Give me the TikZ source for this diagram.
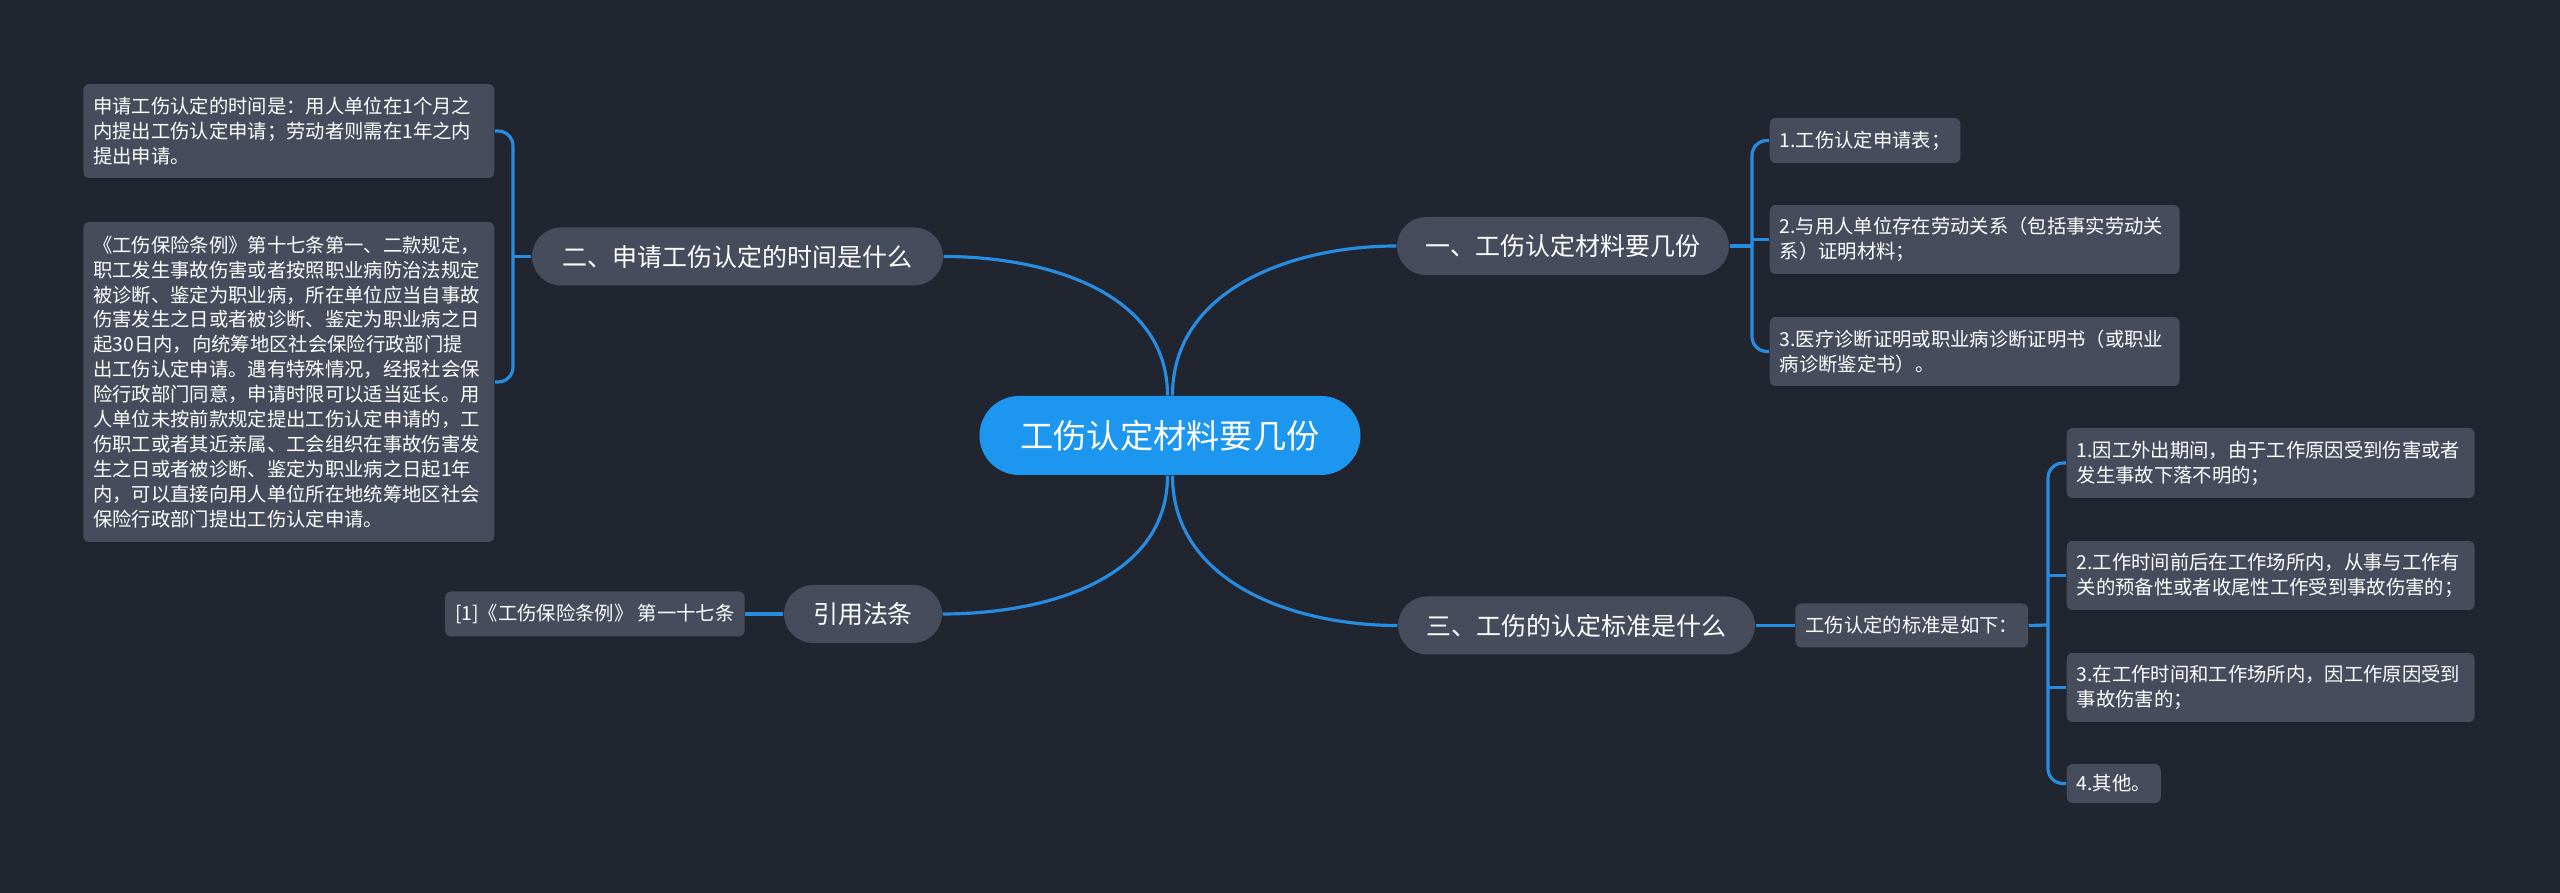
\documentclass[tikz,border=0pt]{standalone}
\usepackage{fontspec}
\setmainfont{Noto Sans CJK SC}
\usetikzlibrary{positioning}
\definecolor{bgdark}{RGB}{33,37,48}
\definecolor{nodegrey}{RGB}{70,76,91}
\definecolor{rootblue}{RGB}{28,150,238}
\definecolor{linkblue}{RGB}{38,141,226}
\tikzset{
  topic/.style={fill=nodegrey, text=white, rounded corners=0.29cm, minimum height=0.58cm, inner xsep=0.2cm, font=\fontsize{7.1}{8.5}\selectfont},
  leaf/.style={fill=nodegrey, text=white, rounded corners=0.06cm, inner xsep=0.1cm, inner ysep=0.1cm, align=left, font=\fontsize{5.5}{7.1}\selectfont},
  link/.style={draw=linkblue, line width=0.9pt}
}

\begin{document}
\begin{tikzpicture}
  % Background
  \fill[bgdark] (0, 0) rectangle (25.6, -8.93);

  % === Root ===
  \node[fill=rootblue, text=white, rounded corners=0.395cm, minimum width=3.81cm, minimum height=0.79cm, font=\fontsize{9.45}{11}\selectfont] (root) at (11.70, -4.355) {工伤认定材料要几份};

  % === Topics ===
  \node[topic, minimum width=3.32cm] (t1) at (15.63, -2.46) {一、工伤认定材料要几份};
  \node[topic, minimum width=4.11cm] (t2) at (7.375, -2.565) {二、申请工伤认定的时间是什么};
  \node[topic, minimum width=3.57cm] (t3) at (15.765, -6.255) {三、工伤的认定标准是什么};
  \node[topic, minimum width=1.58cm] (t4) at (8.63, -6.14) {引用法条};

  % Root to topics
  \draw[link] ([xshift=0.025cm]root.north) to[out=90, in=180] (t1.west);
  \draw[link] ([xshift=-0.025cm]root.north) to[out=90, in=0] (t2.east);
  \draw[link] ([xshift=0.025cm]root.south) to[out=-90, in=180] (t3.west);
  \draw[link] ([xshift=-0.025cm]root.south) to[out=-90, in=0] (t4.east);

  % === Topic 1 (right, top) ===
  \node[leaf, anchor=west, minimum height=0.45cm] (r1) at (17.69, -1.405) {1.工伤认定申请表；};
  \node[leaf, anchor=west, text width=3.9cm, minimum height=0.69cm] (r2) at (17.69, -2.395) {2.与用人单位存在劳动关系（包括事实劳动关\\系）证明材料；};
  \node[leaf, anchor=west, text width=3.9cm, minimum height=0.69cm] (r3) at (17.69, -3.515) {3.医疗诊断证明或职业病诊断证明书（或职业\\病诊断鉴定书）。};

  \coordinate (rb1) at (17.52, -2.46);
  \draw[link] (t1.east) -- (rb1);
  \draw[link, rounded corners=0.15cm] (r1.west) -| (rb1) |- (r3.west);
  \draw[link] (r2.west -| rb1) -- (r2.west);

  % === Topic 2 (left, top) ===
  \node[leaf, anchor=east, text width=3.91cm, minimum height=0.94cm] (a1) at (4.95, -1.31) {申请工伤认定的时间是：用人单位在1个月之\\内提出工伤认定申请；劳动者则需在1年之内\\提出申请。};
  \node[leaf, anchor=east, text width=3.91cm, minimum height=3.20cm] (a2) at (4.95, -3.82) {《工伤保险条例》第十七条第一、二款规定，\\职工发生事故伤害或者按照职业病防治法规定\\被诊断、鉴定为职业病，所在单位应当自事故\\伤害发生之日或者被诊断、鉴定为职业病之日\\起30日内，向统筹地区社会保险行政部门提\\出工伤认定申请。遇有特殊情况，经报社会保\\险行政部门同意，申请时限可以适当延长。用\\人单位未按前款规定提出工伤认定申请的，工\\伤职工或者其近亲属、工会组织在事故伤害发\\生之日或者被诊断、鉴定为职业病之日起1年\\内，可以直接向用人单位所在地统筹地区社会\\保险行政部门提出工伤认定申请。};

  \coordinate (lb) at (5.13, -2.565);
  \draw[link] (t2.west) -- (lb);
  \draw[link, rounded corners=0.15cm] (a1.east) -| (lb) |- (a2.east);

  % === Topic 3 (right, bottom) ===
  \node[leaf, right=0.39cm of t3, minimum height=0.44cm] (s0) {工伤认定的标准是如下：};
  \draw[link] (t3.east) -- (s0.west);

  \node[leaf, anchor=west, text width=3.88cm, minimum height=0.70cm] (s1) at (20.66, -4.63) {1.因工外出期间，由于工作原因受到伤害或者\\发生事故下落不明的；};
  \node[leaf, anchor=west, text width=3.88cm, minimum height=0.69cm] (s2) at (20.66, -5.755) {2.工作时间前后在工作场所内，从事与工作有\\关的预备性或者收尾性工作受到事故伤害的；};
  \node[leaf, anchor=west, text width=3.88cm, minimum height=0.69cm] (s3) at (20.66, -6.875) {3.在工作时间和工作场所内，因工作原因受到\\事故伤害的；};
  \node[leaf, anchor=west, minimum height=0.39cm] (s4) at (20.66, -7.835) {4.其他。};

  \coordinate (rb3) at (20.48, -6.25);
  \draw[link] (s0.east) -- (rb3);
  \draw[link, rounded corners=0.15cm] (s1.west) -| (rb3) |- (s4.west);
  \draw[link] (s2.west -| rb3) -- (s2.west);
  \draw[link] (s3.west -| rb3) -- (s3.west);

  % === Topic 4 (left, bottom) ===
  \node[leaf, left=0.38cm of t4, minimum height=0.45cm] (c1) {[1]《工伤保险条例》 第一十七条};
  \draw[link] (t4.west) -- (c1.east);
\end{tikzpicture}
\end{document}
